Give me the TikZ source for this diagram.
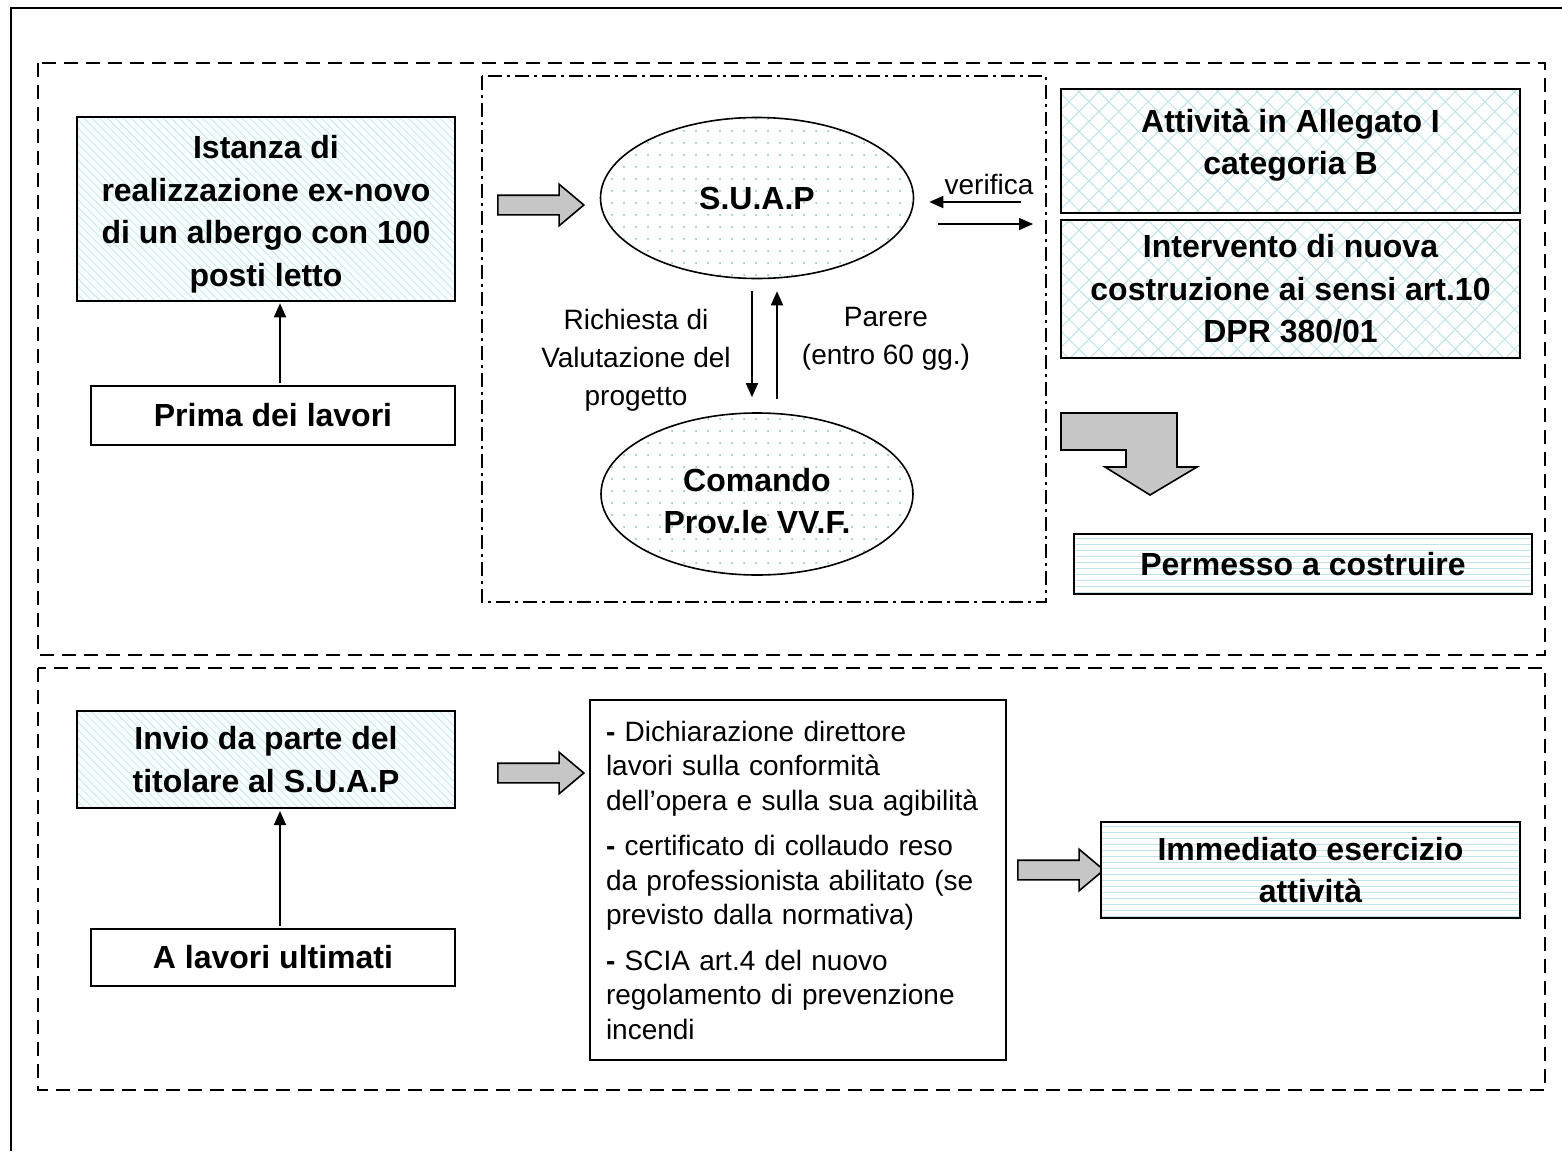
\documentclass[tikz,border=0pt]{standalone}
\usepackage{fontspec}
\setmainfont{Liberation Sans}
\usetikzlibrary{shapes.geometric,shapes.arrows,arrows.meta,patterns.meta}

\definecolor{hatch}{RGB}{190,228,234}

\tikzset{
    box/.style={draw, line width=1pt, align=center, inner sep=2pt,
        font=\fontsize{16}{21.25}\selectfont\bfseries},
    diag/.style={box, preaction={fill=cyan!3},
        pattern={Lines[angle=-45,distance=2.8pt,line width=0.3pt]}, pattern color=hatch},
    crossbox/.style={box, preaction={fill=white},
        preaction={pattern={Lines[angle=45,distance=7pt,line width=0.5pt]}, pattern color=hatch},
        pattern={Lines[angle=-45,distance=7pt,line width=0.5pt]}, pattern color=hatch},
    linebox/.style={box, preaction={fill=white},
        pattern={Lines[angle=0,distance=3pt,line width=0.5pt]}, pattern color=hatch},
    dotell/.style={ellipse, draw, line width=0.8pt, inner sep=0pt, align=center,
        preaction={fill=white},
        pattern={Dots[distance=6pt,radius=0.5pt]}, pattern color=cyan!40!gray!80,
        font=\fontsize{16}{21.25}\selectfont\bfseries},
    listbox/.style={draw, line width=0.8pt, align=left, inner xsep=8pt, inner ysep=6pt,
        font=\fontsize{14}{17.25}\selectfont},
    lbl/.style={align=center, font=\fontsize{14}{19}\selectfont},
    garrow/.style={single arrow, draw, fill=gray!45, line width=0.8pt,
        inner xsep=0pt, inner ysep=4.5pt, single arrow head extend=5.5pt,
        single arrow tip angle=80, minimum height=43pt},
    region/.style={line width=1pt, dash pattern=on 7pt off 4pt},
    inregion/.style={line width=0.8pt, dash pattern=on 7pt off 2.5pt on 1.5pt off 2.5pt},
    >={Triangle[length=7pt,width=6pt]}
}

\begin{document}
\begin{tikzpicture}[x=0.5pt,y=-0.5pt]
        \useasboundingbox (0,0) rectangle (1562,1151);

        \draw[line width=1pt] (11,1151) -- (11,8) -- (1562,8);
        \draw[region] (38,63) rectangle (1545,655);
        \draw[region] (38,668) rectangle (1545,1090);
        \draw[inregion] (482,76) rectangle (1046,602);

        \node[diag, minimum width=189pt, minimum height=92pt] at (266,209) (istanza) {Istanza di\\realizzazione ex-novo\\di un albergo con 100\\posti letto\vphantom{p}\vspace{-5pt}};
        \node[box, minimum width=182pt, minimum height=29.5pt] at (273,415.5) (prima) {Prima dei lavori};
        \node[garrow] at (535,205) (frecciaA) {};

        \node[dotell, minimum width=156.5pt, minimum height=80.5pt] at (757,198) (suap) {S.U.A.P};
        \node[dotell, minimum width=156pt, minimum height=81pt] at (757,494) (comando) {Comando\\Prov.le VV.F.\vspace{-7pt}};

        \node[crossbox, minimum width=229.5pt, minimum height=62pt] at (1290.5,151) (attivita) {Attività in Allegato I\\categoria B\vspace{6pt}};
        \node[crossbox, minimum width=229.5pt, minimum height=69pt] at (1290.5,289) (intervento) {Intervento di nuova\\costruzione ai sensi art.10\\DPR 380/01};
        \node[linebox, minimum width=229pt, minimum height=30pt] at (1303,564) (permesso) {Permesso a costruire};

        \node[lbl] at (636,360) (richiesta) {Richiesta di\\Valutazione del\\progetto};
        \node[lbl] at (886,339) (parere) {Parere\\(entro 60 gg.)};

        \coordinate (vin) at (1021,202);
        \coordinate (vout) at (1033,224);

        \draw[->, line width=0.9pt] (vin) -- node[lbl, above, pos=0.3] (verifica) {verifica} (vin -| suap.east) [shorten >=7.5pt];
        \draw[->, line width=0.9pt, shorten <=12pt] (vout -| suap.east) -- (vout);

        \draw[->, line width=0.9pt, shorten <=6pt, shorten >=7.5pt] ([xshift=-2.5pt]suap.south) -- ([xshift=-2.5pt]comando.north);
        \draw[->, line width=0.9pt, shorten <=6.5pt, shorten >=6pt] ([xshift=10pt]comando.north) -- ([xshift=10pt]suap.south);

        \draw[->, line width=0.9pt, shorten <=1pt, shorten >=1pt] ([xshift=3.5pt]prima.north) -- ([xshift=3.5pt]prima.north |- istanza.south);

        \draw[line width=0.8pt, fill=gray!45] (1061,413) -- (1177,413) -- (1177,467) -- (1197,467) -- (1150,495)
            -- (1105,467) -- (1126,467) -- (1126,450) -- (1061,450) -- cycle;

        \node[diag, minimum width=189pt, minimum height=48.5pt] at (266,759.5) (invio) {Invio da parte del\\titolare al S.U.A.P};
        \node[box, minimum width=182pt, minimum height=28.5pt] at (273,957.5) (ultimati) {A lavori ultimati};
        \node[garrow] at (535,773) (frecciaB) {};

        \node[listbox, text width=192pt, minimum height=180pt] at (798,880) (documenti) {\textbf{-} Dichiarazione direttore\\lavori sulla conformità\\dell’opera e sulla sua agibilità\\[5.5pt]\textbf{-} certificato di collaudo reso\\da professionista abilitato (se\\previsto dalla normativa)\\[5.5pt]\textbf{-} SCIA art.4 del nuovo\\regolamento di prevenzione\\incendi};
        \node[garrow] at (1055,870) (frecciaC) {};
        \node[linebox, minimum width=209.5pt, minimum height=48pt] at (1310.5,870) (esercizio) {Immediato esercizio\\attività};

        \draw[->, line width=0.9pt, shorten <=1pt, shorten >=1pt] ([xshift=3.5pt]ultimati.north) -- ([xshift=3.5pt]ultimati.north |- invio.south);
\end{tikzpicture}
\end{document}
